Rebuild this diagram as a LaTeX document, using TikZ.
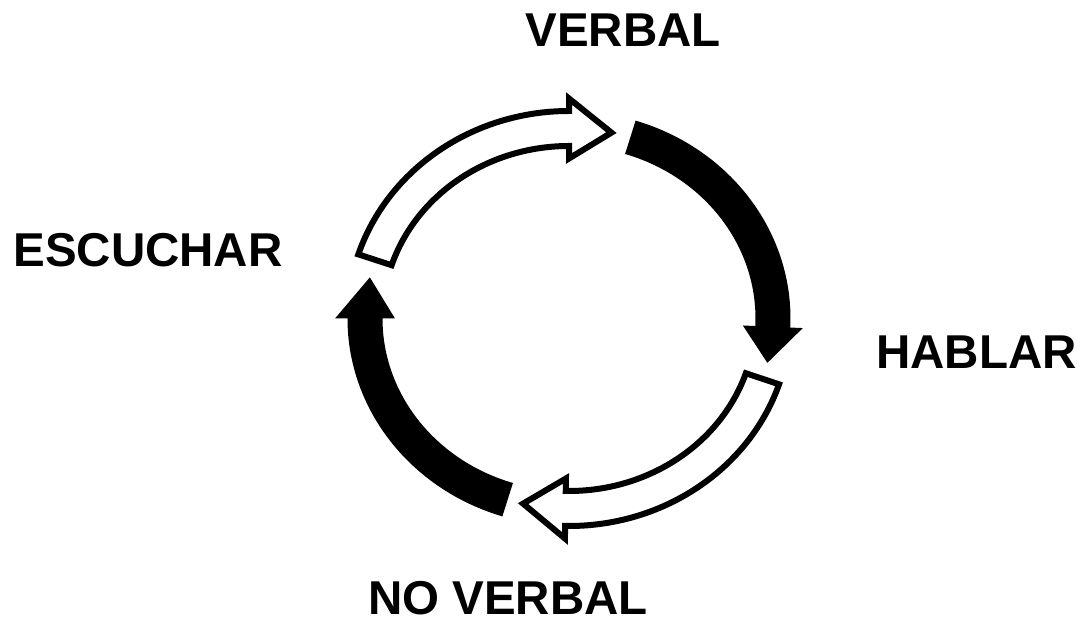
\documentclass[tikz,border=0pt]{standalone}
\usepackage{fontspec}
\setmainfont{Liberation Sans}
\newcommand\cycarrow[4]{%
  \path[#1, shift={(569,304.5)}]
    ({221.5*cos(#2)},{207.5*sin(#2)})
    arc[start angle=#2, end angle=#3, x radius=221.5, y radius=207.5]
    -- ({234*cos(#3)},{220*sin(#3)})
    -- ({204*cos(#4)},{190*sin(#4)})
    -- ({174*cos(#3)},{160*sin(#3)})
    -- ({186.5*cos(#3)},{172.5*sin(#3)})
    arc[start angle=#3, end angle=#2, x radius=186.5, y radius=172.5]
    -- cycle;}
\begin{document}
\begin{tikzpicture}[x=1pt,y=1pt,
  lbl/.style={font=\fontsize{47.5}{57}\selectfont\bfseries, inner sep=0pt, anchor=base},
  whitearrow/.style={draw=black, fill=white, line width=6pt, line join=miter},
  blackarrow/.style={fill=black, draw=none}]
\useasboundingbox (0,0) rectangle (1085,623);
\cycarrow{whitearrow}{162}{90}{78}
\cycarrow{blackarrow}{72.5}{-2.5}{-13.5}
\cycarrow{whitearrow}{-18.5}{-91}{-103}
\cycarrow{blackarrow}{-107.5}{-180}{-192.5}
\node[lbl] (verbal) at (623,576) {VERBAL};
\node[lbl] (escuchar) at (148,356) {ESCUCHAR};
\node[lbl] (hablar) at (976.5,254) {HABLAR};
\node[lbl] (noverbal) at (508,8) {NO VERBAL};
\end{tikzpicture}
\end{document}
